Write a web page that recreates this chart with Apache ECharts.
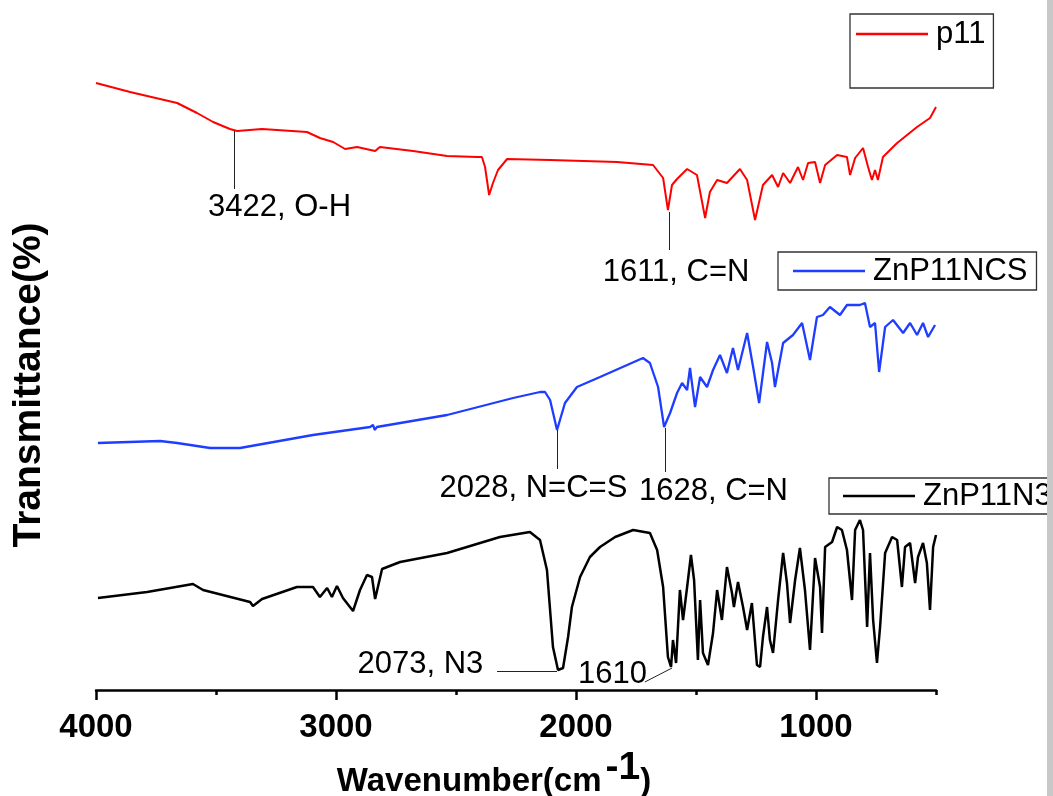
<!DOCTYPE html>
<html>
<head>
<meta charset="utf-8">
<script src="https://cdn.jsdelivr.net/npm/echarts@6/dist/echarts.min.js"></script>
<style>
html,body{margin:0;padding:0;background:#fff;}
#chart{width:1053px;height:796px;}
</style>
</head>
<body>
<div id="chart"></div>
<script>
// ---- data (wavenumber in cm-1, transmittance in arbitrary offset units) ----
const wnP11 = [4000,3858,3662,3579,3512,3442,3412,3308,3121,3067,3012,2962,2912,2837,2817,2679,2537,2412,2392,2379,2362,2346,2325,2287,2108,1829,1679,1637,1617,1600,1579,1537,1496,1462,1442,1412,1371,1317,1287,1254,1221,1183,1158,1137,1108,1075,1054,1033,1004,983,962,912,871,858,837,804,783,767,754,742,721,662,579,525,500];
const tP11  = [607,598,587,577,568,561,559,561,558,552,548,541,543,539,543,539,534,533,533,523,495,507,520,531,530,528,525,512,480,505,511,521,515,472,498,510,507,521,510,470,505,515,503,517,507,523,510,527,528,507,525,535,533,515,532,542,523,510,520,510,533,547,563,572,583];

const wnNCS = [3992,3733,3662,3525,3400,3096,2858,2846,2838,2830,2537,2262,2150,2129,2108,2079,2046,1996,1900,1721,1692,1658,1633,1608,1579,1558,1537,1525,1504,1483,1454,1429,1400,1371,1346,1325,1287,1262,1237,1204,1183,1171,1137,1096,1058,1025,996,971,942,900,871,817,796,775,754,737,712,679,637,608,579,554,533,504];
const tNCS  = [247,249,247,242,242,255,263,265,260,263,275,292,298,298,290,260,287,303,313,332,327,303,263,277,297,307,300,322,283,313,303,320,335,317,342,320,357,323,287,348,327,303,347,355,367,330,373,375,383,375,385,385,387,363,367,318,363,370,357,367,355,367,353,365];

const wnN3 = [3992,3787,3596,3554,3358,3346,3308,3163,3096,3067,3037,3017,2996,2971,2929,2900,2871,2850,2837,2808,2733,2537,2317,2192,2150,2121,2096,2075,2054,2033,2017,1983,1942,1900,1837,1762,1692,1662,1637,1617,1604,1596,1583,1567,1554,1537,1521,1508,1492,1483,1471,1450,1429,1412,1392,1371,1350,1342,1325,1304,1287,1267,1246,1233,1221,1204,1192,1179,1158,1137,1121,1108,1087,1067,1046,1025,1004,983,975,962,933,912,892,871,850,837,817,804,787,775,762,746,733,712,683,662,642,629,608,587,575,554,538,525,512,500];
const tN3  = [92,98,106,100,88,84,91,103,103,93,102,93,104,92,79,100,115,113,91,121,128,137,153,158,150,120,43,20,22,53,83,113,133,143,153,160,157,140,103,33,23,50,27,100,70,103,135,110,30,90,37,25,57,100,70,123,97,83,108,83,60,87,25,23,53,83,50,37,90,137,107,67,110,142,100,40,132,103,57,143,148,163,160,140,90,160,170,160,63,137,70,27,63,137,153,150,103,143,147,107,133,147,127,80,143,155];

const seriesNames = ['p11','ZnP11NCS','ZnP11N3'];
const xMajorTicks = [1000,2000,3000,4000];
const xMinorTicks = [500,1500,2500,3500];

// peak annotations
const annoText = ['3422, O-H','1611, C=N','2028, N=C=S','1628, C=N','2073, N3','1610'];
const annoLabelAt = [[3235,482],[1583,417],[2177,201],[1427,198],[2648,25],[1848,15]];
const annoLeaders = [
  [[3422,559],[3422,501]],
  [[1611,478],[1611,440]],
  [[2079,260],[2079,221]],
  [[1630,262],[1630,218]],
  [[2329,19],[2079,19]],
  [[1713,8],[1600,22]]
];

const FONT = "'Liberation Sans', Arial, Helvetica, sans-serif";
function pairs(xs, ys){ return xs.map((x,i)=>[x, ys[i]]); }

const chart = echarts.init(document.getElementById('chart'), null, {renderer:'canvas'});

const legendCommon = {
  orient:'horizontal',
  icon:'rect',
  itemWidth:72, itemHeight:2.5, itemGap:0,
  borderColor:'#333', borderWidth:1.3, borderRadius:0,
  backgroundColor:'#fff',
  selectedMode:false,
  textStyle:{fontFamily:FONT, fontSize:31, color:'#000', lineHeight:32, padding:[0,0,0,3]}
};

chart.setOption({
  animation:false,
  backgroundColor:'#fff',
  grid:{left:96, right:117, top:80, bottom:106, containLabel:false, outerBoundsMode:'none'},
  xAxis:[{
    type:'value', inverse:true, min:500, max:4000, position:'bottom',
    axisLine:{show:true, lineStyle:{color:'#000', width:2.5}},
    axisTick:{show:true, inside:false, length:10, lineStyle:{color:'#000', width:2.5}, customValues:xMajorTicks},
    axisLabel:{show:true, customValues:xMajorTicks, margin:21, color:'#000', fontFamily:FONT, fontWeight:'bold', fontSize:33,
      formatter:v=>String(v)},
    splitLine:{show:false},
    name:'{m|Wavenumber(cm}{s|-1}{m|)}',
    nameLocation:'middle', nameGap:56,
    nameTextStyle:{
      padding:[0,44,0,0],
      rich:{
        m:{fontFamily:FONT, fontWeight:'bold', fontSize:33, color:'#000', lineHeight:50, verticalAlign:'bottom'},
        s:{fontFamily:FONT, fontWeight:'bold', fontSize:39, color:'#000', lineHeight:33, verticalAlign:'top', padding:[0,0,0,4]}
      }
    }
  },{
    type:'value', inverse:true, min:500, max:4000, position:'bottom',
    axisLine:{show:false},
    axisTick:{show:true, inside:false, length:5, lineStyle:{color:'#000', width:2.5}, customValues:xMinorTicks},
    axisLabel:{show:false},
    splitLine:{show:false}
  }],
  yAxis:{
    type:'value', min:0, max:610,
    axisLine:{show:false}, axisTick:{show:false}, axisLabel:{show:false}, splitLine:{show:false},
    name:'Transmittance(%)', nameLocation:'middle', nameRotate:90, nameGap:47,
    nameTextStyle:{fontFamily:FONT, fontWeight:'bold', fontSize:39, color:'#000'}
  },
  legend:[
    Object.assign({}, legendCommon, {data:['p11'], left:850, top:14, padding:[4,8,38,6]}),
    Object.assign({}, legendCommon, {data:['ZnP11NCS'], left:778, top:252, padding:[3,9,3,15]}),
    Object.assign({}, legendCommon, {data:['ZnP11N3'], left:829, top:478, padding:[2,9,2,14]})
  ],
  series:[
    {name:seriesNames[0], type:'line', xAxisIndex:0, data:pairs(wnP11,tP11), showSymbol:false, symbol:'none',
     lineStyle:{color:'#ff0000', width:2}, itemStyle:{color:'#ff0000'}, z:3},
    {name:seriesNames[1], type:'line', xAxisIndex:0, data:pairs(wnNCS,tNCS), showSymbol:false, symbol:'none',
     lineStyle:{color:'#1f3dff', width:2.3}, itemStyle:{color:'#1f3dff'}, z:3},
    {name:seriesNames[2], type:'line', xAxisIndex:0, data:pairs(wnN3,tN3), showSymbol:false, symbol:'none',
     lineStyle:{color:'#000000', width:2.5}, itemStyle:{color:'#000000'}, z:3},
    {name:'leaders', type:'lines', coordinateSystem:'cartesian2d', xAxisIndex:0, silent:true,
     lineStyle:{color:'#222', width:1, opacity:1}, symbol:'none',
     data:annoLeaders.map(c=>({coords:c})), z:4},
    {name:'labels', type:'scatter', xAxisIndex:0, silent:true, symbolSize:0.1,
     itemStyle:{color:'#000', opacity:1},
     label:{show:true, position:[0,0], align:'center', verticalAlign:'middle', formatter:p=>p.name,
       fontFamily:FONT, fontSize:31, color:'#000', opacity:1, textBorderWidth:0},
     labelLayout:{hideOverlap:false},
     data:annoText.map((t,i)=>({name:t, value:annoLabelAt[i]})), z:5}
  ],
  graphic:[
    {type:'rect', right:0, top:0, shape:{width:6, height:796}, style:{fill:'#c8c8c8'}, z:100}
  ]
});
</script>
</body>
</html>
